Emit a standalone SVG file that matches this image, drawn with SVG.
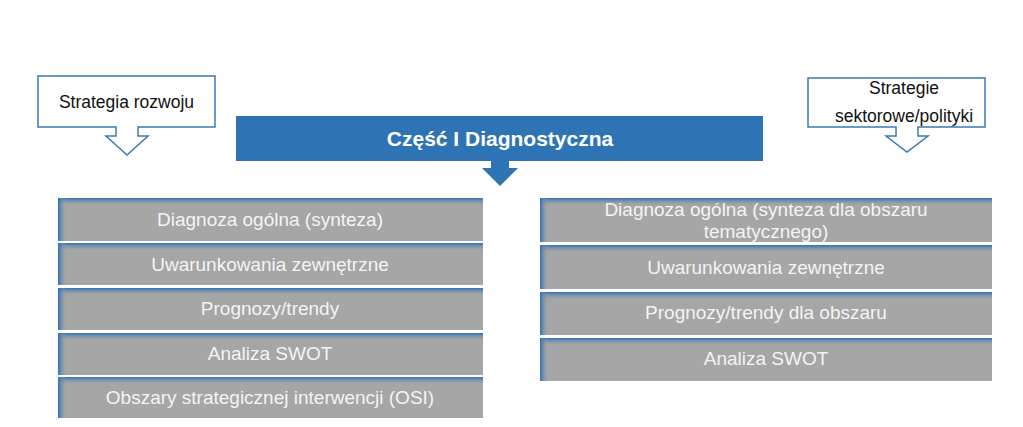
<svg xmlns="http://www.w3.org/2000/svg" width="1023" height="427" viewBox="0 0 1023 427">
<defs>
<linearGradient id="gTop" x1="0" y1="0" x2="0" y2="1">
<stop offset="0" stop-color="#2f6fb4" stop-opacity="1"/>
<stop offset="1" stop-color="#a6a6a6" stop-opacity="0"/>
</linearGradient>
<linearGradient id="gLeft" x1="0" y1="0" x2="1" y2="0">
<stop offset="0" stop-color="#2f6fb4" stop-opacity="1"/>
<stop offset="1" stop-color="#a6a6a6" stop-opacity="0"/>
</linearGradient>
</defs>
<style>
.call{fill:#ffffff;stroke:#3c79b7;stroke-width:1.5}
.ct{font-family:"Liberation Sans",Arial,sans-serif;font-size:17.5px;fill:#111111;text-anchor:middle}
.bar{fill:#a6a6a6}
.top{fill:url(#gTop)}
.lft{fill:url(#gLeft)}
.bt{font-family:"Liberation Sans",Arial,sans-serif;font-size:19px;fill:#f4f4f4;text-anchor:middle}
.ban{fill:#2e74b5}
.bnt{font-family:"Liberation Sans",Arial,sans-serif;font-size:21px;font-weight:bold;fill:#ffffff;text-anchor:middle}
</style>
<rect width="1023" height="427" fill="#ffffff"/>

<g id="strategia-rozwoju">
<path class="call" d="M38,76 H215 V127 H138 V136 H148 L127,155 L106,136 H116 V127 H38 Z"/>
<text class="ct" x="126.5" y="108">Strategia rozwoju</text>
</g>

<g id="strategie-sektorowe">
<path class="call" d="M808,78 H985 V127 H918 V136 H928 L907,152 L886,136 H896 V127 H808 Z"/>
<text class="ct" x="904" y="94">Strategie</text>
<text class="ct" x="904" y="122">sektorowe/polityki</text>
</g>

<g id="czesc-diagnostyczna">
<rect class="ban" x="236" y="116" width="527" height="45"/>
<path class="ban" d="M491,160 H509 V168 H518 L500,186 L482,168 H491 Z"/>
<text class="bnt" x="500" y="146">Część I Diagnostyczna</text>
</g>

<g id="left-1">
<rect class="bar" x="58" y="198" width="425" height="43"/>
<rect class="top" x="58" y="198" width="425" height="8"/>
<rect class="lft" x="58" y="198" width="9" height="43"/>
<text class="bt" x="270" y="226">Diagnoza ogólna (synteza)</text>
</g>
<g id="left-2">
<rect class="bar" x="58" y="243" width="425" height="42"/>
<rect class="top" x="58" y="243" width="425" height="8"/>
<rect class="lft" x="58" y="243" width="9" height="42"/>
<text class="bt" x="270" y="271">Uwarunkowania zewnętrzne</text>
</g>
<g id="left-3">
<rect class="bar" x="58" y="288" width="425" height="42"/>
<rect class="top" x="58" y="288" width="425" height="8"/>
<rect class="lft" x="58" y="288" width="9" height="42"/>
<text class="bt" x="270" y="315">Prognozy/trendy</text>
</g>
<g id="left-4">
<rect class="bar" x="58" y="333" width="425" height="42"/>
<rect class="top" x="58" y="333" width="425" height="8"/>
<rect class="lft" x="58" y="333" width="9" height="42"/>
<text class="bt" x="270" y="360">Analiza SWOT</text>
</g>
<g id="left-5">
<rect class="bar" x="58" y="377" width="425" height="41"/>
<rect class="top" x="58" y="377" width="425" height="8"/>
<rect class="lft" x="58" y="377" width="9" height="41"/>
<text class="bt" x="270" y="404">Obszary strategicznej interwencji (OSI)</text>
</g>

<g id="right-1">
<rect class="bar" x="540" y="198" width="452" height="44"/>
<rect class="top" x="540" y="198" width="452" height="8"/>
<rect class="lft" x="540" y="198" width="9" height="44"/>
<text class="bt" x="766" y="216">Diagnoza ogólna (synteza dla obszaru</text>
<text class="bt" x="766" y="238">tematycznego)</text>
</g>
<g id="right-2">
<rect class="bar" x="540" y="245" width="452" height="44"/>
<rect class="top" x="540" y="245" width="452" height="8"/>
<rect class="lft" x="540" y="245" width="9" height="44"/>
<text class="bt" x="766" y="274">Uwarunkowania zewnętrzne</text>
</g>
<g id="right-3">
<rect class="bar" x="540" y="292" width="452" height="43"/>
<rect class="top" x="540" y="292" width="452" height="8"/>
<rect class="lft" x="540" y="292" width="9" height="43"/>
<text class="bt" x="766" y="319">Prognozy/trendy dla obszaru</text>
</g>
<g id="right-4">
<rect class="bar" x="540" y="338" width="452" height="43"/>
<rect class="top" x="540" y="338" width="452" height="8"/>
<rect class="lft" x="540" y="338" width="9" height="43"/>
<text class="bt" x="766" y="365">Analiza SWOT</text>
</g>

<g id="connectors"></g>
</svg>
